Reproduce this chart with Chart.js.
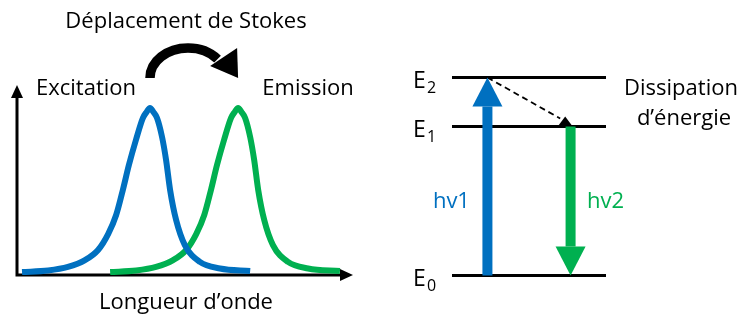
<!DOCTYPE html>
<html>
<head>
<meta charset="utf-8">
<script src="https://cdn.jsdelivr.net/npm/chart.js@4"></script>
<style>
body { margin: 0; background: #fff; }
#wrap { position: relative; width: 743px; height: 318px; }
canvas { position: absolute; top: 0; }
#spectra { left: 0; }
#levels { left: 370px; }
</style>
</head>
<body>
<div id="wrap">
<canvas id="spectra" width="370" height="318"></canvas>
<canvas id="levels" width="373" height="318"></canvas>
</div>
<script>
// spectra, wavelength and intensity in arbitrary units (0-100)
let excitationX = [1.5, 9.3, 15.2, 20.3, 24.2, 27.2, 29.6, 31.6, 33.4, 35.5, 37.6, 38.7, 39.7, 40.7, 41.8, 43.3, 44.5, 45.7, 47.5, 50.1, 54.6, 60.6, 69.6];
let excitationY = [1.6, 2.4, 4.3, 8.0, 13.4, 21.9, 32.1, 45.5, 58.8, 72.2, 84.0, 87.2, 89.3, 87.2, 84.0, 73.8, 61.5, 45.5, 29.4, 16.0, 7.0, 3.5, 2.1];
let emissionX = [27.8, 35.6, 41.5, 46.6, 50.5, 53.5, 55.9, 57.9, 59.7, 61.8, 63.9, 65.0, 66.0, 67.0, 68.1, 69.6, 70.8, 72.0, 73.8, 76.4, 80.9, 86.9, 96.4];
let emissionY = [1.6, 2.4, 4.3, 8.0, 13.4, 21.9, 32.1, 45.5, 58.8, 72.2, 84.0, 87.2, 89.3, 87.2, 84.0, 73.8, 61.5, 45.5, 29.4, 16.0, 7.0, 3.5, 2.1];

// energy diagram
let levelNames = ['0', '1', '2'];
let levelEnergy = [0, 1.505, 2];
let transitionLabels = ['hv1', 'hv2'];
let transitionX = [2.3, 7.7];
let transitionFrom = [0, 1.505];
let transitionTo = [2, 0];
let relaxationFrom = [2.3, 2];
let relaxationTo = [7.35, 1.505];

const BLUE = '#0070C0';
const GREEN = '#00B050';
const FONT = '"Open Sans", "Noto Sans", sans-serif';

function toPoints(xs, ys) {
    return xs.map((x, i) => ({x: x, y: ys[i]}));
}

function text(ctx, str, x, y, size, color, align) {
    ctx.save();
    ctx.font = size + 'px ' + FONT;
    ctx.fillStyle = color || '#000';
    ctx.textAlign = align || 'center';
    ctx.textBaseline = 'alphabetic';
    ctx.fillText(str, x, y);
    ctx.restore();
}

function tri(ctx, a, b, c, color) {
    ctx.beginPath();
    ctx.moveTo(a[0], a[1]);
    ctx.lineTo(b[0], b[1]);
    ctx.lineTo(c[0], c[1]);
    ctx.closePath();
    ctx.fillStyle = color;
    ctx.fill();
}

let spectraDecor = {
    id : 'spectraDecor',
    beforeDatasetsDraw(chart) {
        let ctx = chart.ctx;
        let a = chart.chartArea;
        ctx.save();
        ctx.strokeStyle = '#000';
        ctx.lineWidth = 3;
        ctx.beginPath();
        ctx.moveTo(a.left, a.bottom + 1.5);
        ctx.lineTo(a.left, a.top + 8);
        ctx.moveTo(a.left - 1.5, a.bottom);
        ctx.lineTo(a.right - 10, a.bottom);
        ctx.stroke();
        tri(ctx, [a.left, a.top - 3], [a.left - 6, a.top + 10], [a.left + 6, a.top + 10], '#000');
        tri(ctx, [a.right + 1, a.bottom], [a.right - 12, a.bottom - 6], [a.right - 12, a.bottom + 6], '#000');
        ctx.restore();
    },
    afterDraw(chart) {
        let ctx = chart.ctx;
        let a = chart.chartArea;
        let x = chart.scales.x;
        let p1 = x.getPixelForValue(excitationX[excitationY.indexOf(Math.max(...excitationY))]);
        let p2 = x.getPixelForValue(emissionX[emissionY.indexOf(Math.max(...emissionY))]);

        // Stokes shift arrow
        ctx.save();
        ctx.strokeStyle = '#000';
        ctx.lineWidth = 9.5;
        ctx.beginPath();
        ctx.ellipse(p1 + 38, a.top - 10, 38, 30, 0, Math.PI, 2 * Math.PI - 0.68);
        ctx.stroke();
        tri(ctx, [p2, a.top - 10], [p2 - 28, a.top - 22], [p2 - 1, a.top - 40], '#000');
        ctx.restore();

        text(ctx, 'Déplacement de Stokes', 186, 28, 22);
        text(ctx, 'Excitation', 86, 95, 22);
        text(ctx, 'Emission', 308, 95, 22);
        text(ctx, 'Longueur d’onde', 186, 309, 22);
    }
};

let levelDecor = {
    id : 'levelDecor',
    afterDatasetsDraw(chart) {
        let ctx = chart.ctx;
        let xs = chart.scales.x;
        let ys = chart.scales.y;
        let colors = [BLUE, GREEN];

        // level names
        levelEnergy.forEach((e, i) => {
            let py = ys.getPixelForValue(e);
            text(ctx, 'E', chart.chartArea.left - 39, py + 10, 23, '#000', 'left');
            text(ctx, levelNames[i], chart.chartArea.left - 25, py + 15, 16, '#000', 'left');
        });

        // relaxation
        let r0x = xs.getPixelForValue(relaxationFrom[0]);
        let r0y = ys.getPixelForValue(relaxationFrom[1]);
        let r1x = xs.getPixelForValue(relaxationTo[0]);
        let r1y = ys.getPixelForValue(relaxationTo[1]);
        ctx.save();
        ctx.strokeStyle = '#000';
        ctx.lineWidth = 1.8;
        ctx.setLineDash([6, 4]);
        ctx.beginPath();
        ctx.moveTo(r0x, r0y);
        ctx.lineTo(r1x - 5, r1y - 8);
        ctx.stroke();
        ctx.restore();
        tri(ctx, [r1x, r1y - 10], [r1x - 7.5, r1y], [r1x + 7.5, r1y], '#000');

        // photon arrows
        transitionX.forEach((tx, i) => {
            let px = xs.getPixelForValue(tx);
            let y0 = ys.getPixelForValue(transitionFrom[i]);
            let y1 = ys.getPixelForValue(transitionTo[i]);
            let dir = y1 < y0 ? -1 : 1;
            let head = 29;
            ctx.save();
            ctx.fillStyle = colors[i];
            let shaftEnd = y1 - dir * head;
            ctx.fillRect(px - 5, Math.min(y0, shaftEnd), 10, Math.abs(shaftEnd - y0));
            tri(ctx, [px, y1], [px - 15, shaftEnd], [px + 15, shaftEnd], colors[i]);
            ctx.restore();
            let lx = px + (i === 0 ? -36 : 35);
            text(ctx, transitionLabels[i], lx, 208, 22, colors[i]);
        });

        text(ctx, 'Dissipation', 311, 95, 22);
        text(ctx, 'd’énergie', 314, 125, 22);
    }
};

let spectraConfig = {
    type : 'line',
    data : {
        datasets : [{
            label : 'Excitation',
            data : toPoints(excitationX, excitationY),
            borderColor : BLUE,
            borderWidth : 6,
            pointRadius : 0,
            clip : false,
            cubicInterpolationMode : 'monotone'
        }, {
            label : 'Emission',
            data : toPoints(emissionX, emissionY),
            borderColor : GREEN,
            borderWidth : 6,
            pointRadius : 0,
            clip : false,
            cubicInterpolationMode : 'monotone'
        }]
    },
    options : {
        responsive : false,
        animation : false,
        layout : {padding : {left : 17, right : 18, top : 88, bottom : 43}},
        plugins : {
            legend : {display : false},
            tooltip : {enabled : false}
        },
        scales : {
            x : {type : 'linear', min : 0, max : 100, display : false},
            y : {min : 0, max : 100, display : false}
        }
    },
    plugins : [spectraDecor]
};

let levelConfig = {
    type : 'line',
    data : {
        datasets : levelEnergy.map((e, i) => ({
            label : 'E' + levelNames[i],
            data : [{x : 0, y : e}, {x : 10, y : e}],
            borderColor : '#000',
            borderWidth : 3,
            pointRadius : 0,
            clip : false
        }))
    },
    options : {
        responsive : false,
        animation : false,
        layout : {padding : {left : 82, right : 137, top : 77.5, bottom : 42.5}},
        plugins : {
            legend : {display : false},
            tooltip : {enabled : false}
        },
        scales : {
            x : {type : 'linear', min : 0, max : 10, display : false},
            y : {min : 0, max : 2, display : false}
        }
    },
    plugins : [levelDecor]
};

let spectraChart = new Chart(document.getElementById('spectra').getContext('2d'), spectraConfig);
let levelChart = new Chart(document.getElementById('levels').getContext('2d'), levelConfig);
</script>
</body>
</html>
